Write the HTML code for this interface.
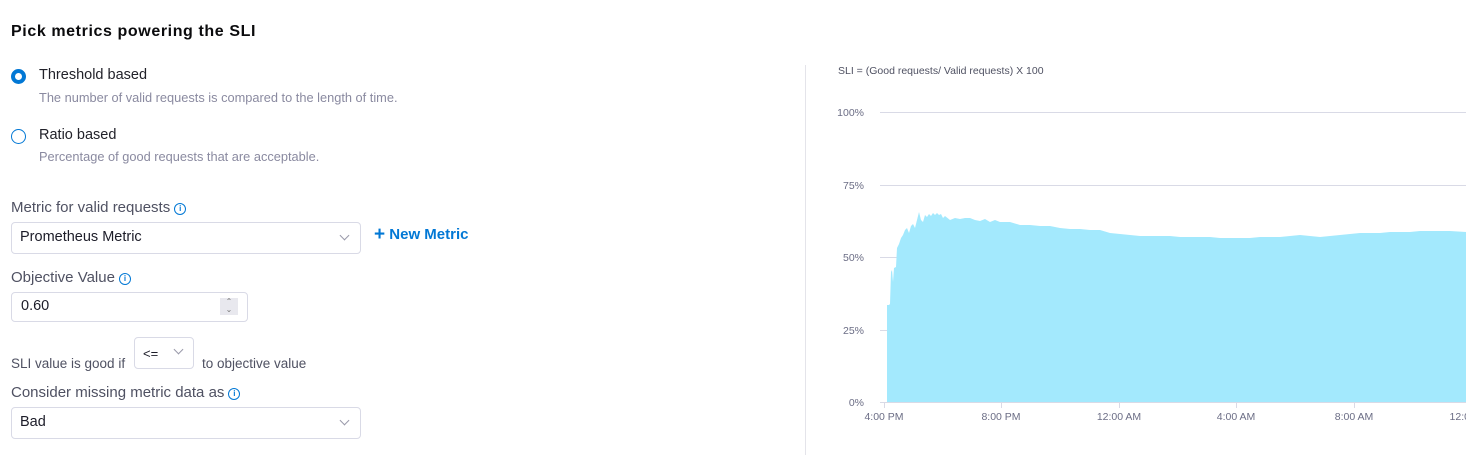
<!DOCTYPE html>
<html><head><meta charset="utf-8"><style>
body{margin:0;width:1466px;height:468px;background:#fff;font-family:"Liberation Sans",sans-serif;position:relative;overflow:hidden}
.a{position:absolute;white-space:nowrap}
.lbl{font-size:15px;color:#4f5162}
.sub{font-size:12.8px;color:#8a8aa0}
.radio{position:absolute;width:15px;height:15px;border-radius:50%;box-sizing:border-box}
.box{position:absolute;border:1px solid #d9dae6;border-radius:4px;box-sizing:border-box;background:#fff}
.info{display:inline-block;width:10px;height:10px;border:1.2px solid #0278d5;border-radius:50%;color:#0278d5;font-size:8px;line-height:10px;text-align:center;font-weight:bold;vertical-align:1px;margin-left:4px}
.chev{position:absolute;width:6px;height:6px;border-right:1px solid #9a9aaa;border-bottom:1px solid #9a9aaa;transform:rotate(45deg)}
</style></head><body>
<div class="a" style="left:11px;top:23px;font-size:16px;letter-spacing:0.6px;font-weight:bold;color:#0b0b0d">Pick metrics powering the SLI</div>
<div class="radio" style="left:11px;top:69px;border:4px solid #0278d5"></div>
<div class="a" style="left:39px;top:67px;font-size:14.5px;color:#22222a">Threshold based</div>
<div class="a sub" style="left:39px;top:90px">The number of valid requests is compared to the length of time.</div>
<div class="radio" style="left:11px;top:129px;border:1.5px solid #0278d5"></div>
<div class="a" style="left:39px;top:127px;font-size:14.5px;color:#22222a">Ratio based</div>
<div class="a sub" style="left:39px;top:149px">Percentage of good requests that are acceptable.</div>

<div class="a lbl" style="left:11px;top:199px">Metric for valid requests<span class="info">i</span></div>
<div class="box" style="left:11px;top:222px;width:350px;height:32px"></div>
<div class="a" style="left:20px;top:229px;font-size:14.5px;color:#1c1c28">Prometheus Metric</div>
<div class="chev" style="left:341px;top:232px"></div>
<div class="a" style="left:374px;top:224px;font-size:15px;font-weight:bold;color:#0278d5"><span style="font-size:19px;vertical-align:-1px">+</span> New Metric</div>

<div class="a lbl" style="left:11px;top:269px">Objective Value<span class="info">i</span></div>
<div class="box" style="left:11px;top:292px;width:237px;height:30px"></div>
<div class="a" style="left:21px;top:298px;font-size:14.5px;color:#1c1c28">0.60</div>
<div class="a" style="left:220px;top:298px;width:18px;height:17px;background:#e8e8ee;font-size:8px;color:#777;text-align:center;line-height:8px">⌃<br>⌄</div>

<div class="box" style="left:134px;top:337px;width:60px;height:32px"></div>
<div class="a" style="left:143px;top:346px;font-size:13px;color:#1c1c28">&lt;=</div>
<div class="chev" style="left:175px;top:346px"></div>
<div class="a" style="left:11px;top:356px;font-size:13.5px;color:#4f5162">SLI value is good if</div>
<div class="a" style="left:202px;top:356px;font-size:13.5px;color:#4f5162">to objective value</div>

<div class="a lbl" style="left:11px;top:384px">Consider missing metric data as<span class="info">i</span></div>
<div class="box" style="left:11px;top:407px;width:350px;height:32px"></div>
<div class="a" style="left:20px;top:414px;font-size:14.5px;color:#1c1c28">Bad</div>
<div class="chev" style="left:341px;top:417px"></div>

<div class="a" style="left:805px;top:65px;width:1px;height:390px;background:#e4e4ea"></div>
<div class="a" style="left:838px;top:65px;font-size:10.5px;color:#4f5162">SLI = (Good requests/ Valid requests) X 100</div>

<svg class="a" style="left:0;top:0" width="1466" height="468">
<g stroke="#d9dae6" stroke-width="1">
<line x1="880" y1="112.5" x2="1466" y2="112.5"/>
<line x1="880" y1="185.5" x2="1466" y2="185.5"/>
<line x1="880" y1="257.5" x2="1466" y2="257.5"/>
<line x1="880" y1="330.5" x2="1466" y2="330.5"/>
<line x1="880" y1="402.5" x2="1466" y2="402.5"/>
<line x1="884.5" y1="402" x2="884.5" y2="408"/>
<line x1="1001.5" y1="402" x2="1001.5" y2="408"/>
<line x1="1119.5" y1="402" x2="1119.5" y2="408"/>
<line x1="1236.5" y1="402" x2="1236.5" y2="408"/>
<line x1="1354.5" y1="402" x2="1354.5" y2="408"/>
</g>
<path fill="#a3e9fd" d="M887,402 L887,305 L889,305 L890,304 L891,272 L892,270 L893,282 L894,268 L896,267 L897,248 L899,244 L901,238 L903,235 L905,230 L907,228 L909,233 L911,226 L913,224 L915,228 L917,220 L919,212 L921,220 L923,222 L925,215 L927,217 L929,214 L931,216 L933,213 L935,215 L937,213 L939,215 L941,214 L943,218 L945,216 L950,220 L955,218 L960,219 L965,218 L970,218 L975,220 L980,221 L985,219 L990,222 L995,220 L1000,222 L1010,222 L1020,225 L1030,225 L1040,226 L1050,226 L1060,228 L1070,229 L1080,229 L1090,230 L1100,230 L1110,233 L1120,234 L1130,235 L1140,236 L1150,236 L1160,236 L1170,236 L1180,237 L1190,237 L1200,237 L1210,237 L1220,238 L1230,238 L1240,238 L1250,238 L1260,237 L1270,237 L1280,237 L1290,236 L1300,235 L1310,236 L1320,237 L1330,236 L1340,235 L1350,234 L1360,233 L1370,233 L1380,233 L1390,232 L1400,232 L1410,232 L1420,231 L1430,231 L1440,231 L1450,231 L1466,232 L1466,402 Z"/>
<g font-family="Liberation Sans,sans-serif" font-size="10.5" fill="#6b6d85" text-anchor="end">
<text x="864" y="116">100%</text><text x="864" y="189">75%</text><text x="864" y="261">50%</text><text x="864" y="334">25%</text><text x="864" y="406">0%</text>
</g>
<g font-family="Liberation Sans,sans-serif" font-size="10.5" fill="#6b6d85" text-anchor="middle">
<text x="884" y="420">4:00 PM</text><text x="1001" y="420">8:00 PM</text><text x="1119" y="420">12:00 AM</text><text x="1236" y="420">4:00 AM</text><text x="1354" y="420">8:00 AM</text><text x="1472" y="420">12:00 PM</text>
</g>
</svg>
</body></html>
